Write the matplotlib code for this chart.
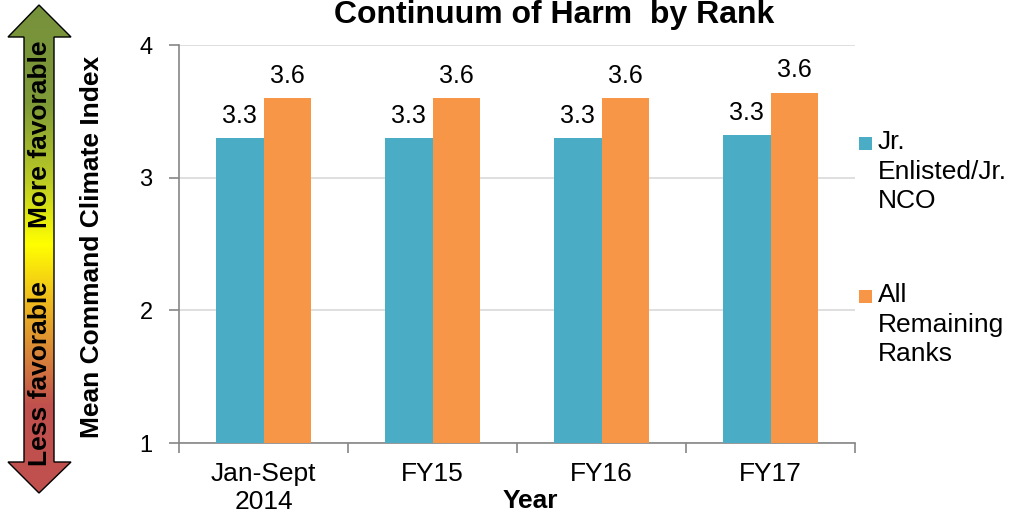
import numpy as np
import matplotlib
matplotlib.use("Agg")
import matplotlib.pyplot as plt
from matplotlib.colors import LinearSegmentedColormap
from matplotlib.patches import Polygon, Rectangle

plt.rcParams["font.family"] = ["Liberation Sans", "DejaVu Sans"]

# data
categories = ["Jan-Sept\n2014", "FY15", "FY16", "FY17"]
series_names = ["Jr.\nEnlisted/Jr.\nNCO", "All\nRemaining\nRanks"]
jr_enlisted = [3.30, 3.30, 3.30, 3.32]
remaining = [3.60, 3.60, 3.60, 3.64]
value_labels_jr = ["3.3", "3.3", "3.3", "3.3"]
value_labels_rem = ["3.6", "3.6", "3.6", "3.6"]
colors = ["#4BACC6", "#F79646"]

W, H = 1011, 519
fig = plt.figure(figsize=(W / 100, H / 100), dpi=100)

# main chart, placed in pixel units
left, right, top, bottom = 179, 855, 45, 443
ax = fig.add_axes([left / W, 1 - bottom / H, (right - left) / W, (bottom - top) / H])

x = np.arange(len(categories))
bw = 0.284
b1 = ax.bar(x - bw / 2, jr_enlisted, bw, bottom=0, color=colors[0], zorder=3)
b2 = ax.bar(x + bw / 2, remaining, bw, bottom=0, color=colors[1], zorder=3)

for bars, labs in ((b1, value_labels_jr), (b2, value_labels_rem)):
    for rect, lab in zip(bars, labs):
        ax.annotate(lab, (rect.get_x() + rect.get_width() / 2, rect.get_height()),
                    xytext=(0, 11), textcoords="offset points",
                    ha="center", va="baseline", fontsize=18)

ax.set_ylim(1, 4)
ax.set_xlim(-0.5, len(categories) - 0.5)
ax.set_yticks([1, 2, 3, 4])
ax.yaxis.grid(True, color="#D9D9D9", linewidth=1.2, zorder=0)
ax.set_axisbelow(True)

ax.set_xticks(x)
ax.set_xticklabels(categories, fontsize=19, linespacing=1.2)
ax.set_xticks(np.arange(len(categories) + 1) - 0.5, minor=True)
ax.tick_params(axis="x", which="major", length=0, pad=14)
ax.tick_params(axis="x", which="minor", length=7, color="#868686", width=1.2)
ax.tick_params(axis="y", length=7, color="#868686", width=1.2, labelsize=17, pad=12)

for s in ("top", "right"):
    ax.spines[s].set_visible(False)
for s in ("left", "bottom"):
    ax.spines[s].set_color("#868686")
    ax.spines[s].set_linewidth(1.2)

# titles / labels
fig.text(554 / W, 1 - 23 / H, "Continuum of Harm  by Rank", ha="center",
         va="baseline", fontsize=23, fontweight="bold")
fig.text(530 / W, 1 - 508 / H, "Year", ha="center", va="baseline",
         fontsize=19, fontweight="bold")
fig.text(92 / W, 1 - 247 / H, "Mean Command Climate Index", rotation=90,
         ha="center", va="center", fontsize=19, fontweight="bold")

# legend drawn by hand
leg_tops = [130, 283]
for name, col, ty in zip(series_names, colors, leg_tops):
    fig.add_artist(Rectangle((859 / W, 1 - (ty + 20) / H), 13 / W, 13 / H,
                             transform=fig.transFigure, facecolor=col,
                             edgecolor="none"))
    fig.text(878 / W, 1 - ty / H, name, ha="left", va="top", fontsize=19,
             linespacing=1.3)

# gradient arrow on the left
axa = fig.add_axes([0, 0, 1, 1], facecolor="none")
axa.axis("off")
arrow_pts = [(39, 5), (71, 37), (54, 37), (54, 462), (71, 462), (39, 493),
             (8, 462), (24, 462), (24, 37), (8, 37)]
grad = LinearSegmentedColormap.from_list("fav", [
    (0.0, "#76913C"), (0.2, "#7E9A38"), (0.36, "#BCCB24"), (0.49, "#FFFF00"),
    (0.6, "#F0BE1C"), (0.72, "#D8833A"), (0.82, "#C0504D"), (1.0, "#C0504D")])
img = axa.imshow(np.linspace(0, 1, 256).reshape(-1, 1), cmap=grad, aspect="auto",
                 extent=(8, 71, 493, 5))
poly = Polygon(arrow_pts, closed=True, facecolor="none", edgecolor="black",
               linewidth=1.0)
axa.add_patch(poly)
img.set_clip_path(poly)
axa.set_xlim(0, W)
axa.set_ylim(H, 0)
axa.text(40, 134, "More favorable", rotation=90, ha="center", va="center",
         fontsize=19, fontweight="bold")
axa.text(40, 374, "Less favorable", rotation=90, ha="center", va="center",
         fontsize=19, fontweight="bold")

fig.savefig("out.png", dpi=100)
